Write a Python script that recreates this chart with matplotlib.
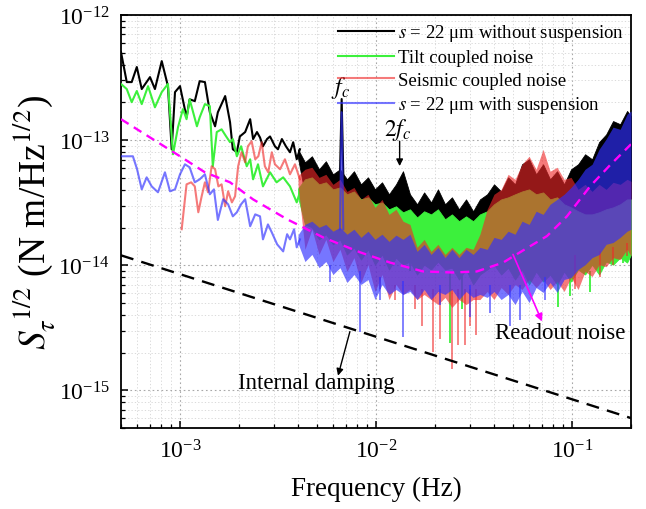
import matplotlib
matplotlib.use("Agg")
import matplotlib.pyplot as plt
from matplotlib.lines import Line2D

plt.rcParams['font.family'] = ['Liberation Serif', 'DejaVu Serif']
plt.rcParams['mathtext.fontset'] = 'stix'

# ---------------- data ----------------
# low-frequency parts of the spectra (individual lines)
black_f = [5.0e-4, 5.35e-4, 5.67e-4, 6.02e-4, 6.38e-4, 7.03e-4, 7.45e-4, 8.07e-4, 8.68e-4, 9.07e-4,
           9.43e-4, 1.0e-3, 1.08e-3, 1.12e-3, 1.19e-3, 1.26e-3, 1.34e-3, 1.42e-3, 1.51e-3, 1.56e-3,
           1.70e-3, 1.80e-3, 1.86e-3, 1.95e-3, 2.02e-3, 2.15e-3, 2.28e-3, 2.36e-3, 2.47e-3, 2.56e-3,
           2.65e-3, 2.78e-3, 2.88e-3, 3.05e-3, 3.16e-3, 3.31e-3, 3.47e-3, 3.64e-3, 3.78e-3, 3.94e-3, 4.09e-3]
black_v = [5.06e-13, 2.91e-13, 2.91e-13, 3.84e-13, 2.56e-13, 3.19e-13, 2.56e-13, 4.28e-13, 2.70e-13, 8.45e-14,
           2.42e-13, 2.70e-13, 1.52e-13, 2.12e-13, 2.05e-13, 2.96e-13, 2.91e-13, 1.67e-13, 1.29e-13, 1.67e-13,
           2.25e-13, 1.39e-13, 8.45e-14, 8.00e-14, 1.07e-13, 1.16e-13, 1.47e-13, 1.02e-13, 1.16e-13, 1.05e-13,
           8.93e-14, 1.02e-13, 1.07e-13, 8.93e-14, 8.45e-14, 1.02e-13, 8.93e-14, 8.00e-14, 9.62e-14, 7.03e-14, 8.45e-14]

green_f = [5.0e-4, 5.35e-4, 5.67e-4, 6.02e-4, 6.38e-4, 6.87e-4, 7.45e-4, 8.07e-4, 8.68e-4, 9.21e-4,
           9.77e-4, 1.035e-3, 1.08e-3, 1.12e-3, 1.22e-3, 1.26e-3, 1.34e-3, 1.42e-3, 1.47e-3, 1.54e-3,
           1.63e-3, 1.72e-3, 1.80e-3, 1.86e-3, 1.95e-3, 2.05e-3, 2.19e-3, 2.28e-3, 2.36e-3, 2.50e-3,
           2.65e-3, 2.88e-3, 3.11e-3, 3.36e-3, 3.64e-3, 3.94e-3, 4.09e-3]
green_v = [2.81e-13, 2.56e-13, 2.01e-13, 2.47e-13, 1.94e-13, 2.70e-13, 1.83e-13, 2.42e-13, 2.81e-13, 7.71e-14,
           1.27e-13, 1.77e-13, 1.47e-13, 2.12e-13, 1.29e-13, 1.52e-13, 1.94e-13, 1.87e-13, 6.18e-14, 1.16e-13,
           1.22e-13, 1.07e-13, 9.62e-14, 1.02e-13, 7.43e-14, 8.93e-14, 6.18e-14, 7.03e-14, 4.86e-14, 6.41e-14,
           4.27e-14, 5.53e-14, 4.60e-14, 5.04e-14, 4.27e-14, 3.18e-14, 3.83e-14]

red_f = [1.02e-3, 1.08e-3, 1.14e-3, 1.19e-3, 1.24e-3, 1.29e-3, 1.34e-3, 1.39e-3, 1.45e-3, 1.51e-3,
         1.57e-3, 1.63e-3, 1.70e-3, 1.76e-3, 1.84e-3, 1.91e-3, 1.98e-3, 2.06e-3, 2.15e-3, 2.22e-3,
         2.32e-3, 2.42e-3, 2.51e-3, 2.61e-3, 2.71e-3, 2.82e-3, 2.94e-3, 3.05e-3, 3.24e-3, 3.43e-3,
         3.64e-3, 3.86e-3, 4.09e-3]
red_v = [1.94e-14, 4.43e-14, 4.60e-14, 4.27e-14, 2.65e-14, 3.56e-14, 4.60e-14, 3.83e-14, 6.18e-14, 5.85e-14,
         4.27e-14, 4.43e-14, 2.96e-14, 3.90e-14, 3.18e-14, 3.56e-14, 6.18e-14, 8.00e-14, 6.65e-14, 8.93e-14,
         9.79e-14, 7.03e-14, 7.43e-14, 9.62e-14, 6.18e-14, 5.53e-14, 8.00e-14, 6.41e-14, 5.85e-14, 7.03e-14,
         5.33e-14, 6.41e-14, 4.86e-14]

blue_f = [5.0e-4, 5.37e-4, 5.75e-4, 6.04e-4, 6.38e-4, 6.76e-4, 7.17e-4, 7.72e-4, 8.38e-4, 8.89e-4,
          9.43e-4, 1.0e-3, 1.06e-3, 1.12e-3, 1.19e-3, 1.26e-3, 1.34e-3, 1.42e-3, 1.49e-3, 1.56e-3,
          1.66e-3, 1.76e-3, 1.86e-3, 1.95e-3, 2.05e-3, 2.15e-3, 2.28e-3, 2.42e-3, 2.56e-3, 2.65e-3,
          2.81e-3, 2.94e-3, 3.13e-3, 3.36e-3, 3.52e-3, 3.64e-3, 3.82e-3, 3.94e-3, 4.09e-3]
blue_v = [7.43e-14, 7.43e-14, 7.43e-14, 5.85e-14, 4.04e-14, 5.04e-14, 4.27e-14, 3.83e-14, 5.53e-14, 3.90e-14,
          4.04e-14, 5.33e-14, 6.41e-14, 6.06e-14, 4.60e-14, 4.86e-14, 5.33e-14, 3.69e-14, 4.04e-14, 2.30e-14,
          3.37e-14, 3.07e-14, 2.46e-14, 2.65e-14, 3.07e-14, 3.37e-14, 2.05e-14, 2.55e-14, 2.46e-14, 1.61e-14,
          2.12e-14, 1.83e-14, 1.47e-14, 1.29e-14, 1.77e-14, 1.61e-14, 1.94e-14, 1.39e-14, 1.61e-14]

# dense high-frequency part: upper / lower envelopes of each spectrum
band_f = [4.00e-3, 4.34e-3, 4.71e-3, 5.12e-3, 5.55e-3, 6.03e-3, 6.55e-3, 7.11e-3, 7.72e-3, 8.38e-3,
          9.10e-3, 9.88e-3, 1.073e-2, 1.165e-2, 1.265e-2, 1.373e-2, 1.49e-2, 1.62e-2, 1.76e-2, 1.91e-2,
          2.07e-2, 2.25e-2, 2.44e-2, 2.65e-2, 2.88e-2, 3.13e-2, 3.39e-2, 3.69e-2, 4.00e-2, 4.35e-2,
          4.72e-2, 5.12e-2, 5.56e-2, 6.04e-2, 6.56e-2, 7.12e-2, 7.73e-2, 8.39e-2, 9.11e-2, 9.89e-2,
          0.1074, 0.1166, 0.1266, 0.1375, 0.1493, 0.162, 0.176, 0.191, 0.200]
black_hi = [8.45e-14, 6.65e-14, 7.43e-14, 5.85e-14, 6.78e-14, 5.33e-14, 5.85e-14, 4.86e-14, 5.64e-14, 4.43e-14,
            5.04e-14, 4.04e-14, 4.60e-14, 3.69e-14, 4.43e-14, 5.64e-14, 3.69e-14, 3.07e-14, 3.82e-14, 3.18e-14,
            4.04e-14, 3.07e-14, 3.49e-14, 2.80e-14, 3.36e-14, 2.70e-14, 3.36e-14, 3.69e-14, 4.43e-14, 3.89e-14,
            5.04e-14, 4.43e-14, 6.41e-14, 7.03e-14, 5.33e-14, 6.41e-14, 4.86e-14, 5.64e-14, 4.43e-14, 5.85e-14,
            6.41e-14, 7.71e-14, 7.03e-14, 9.65e-14, 1.11e-13, 1.42e-13, 1.34e-13, 1.71e-13, 1.55e-13]
black_lo = [7.20e-14, 3.69e-14, 3.82e-14, 3.36e-14, 3.49e-14, 3.07e-14, 3.18e-14, 2.80e-14, 2.96e-14, 2.55e-14,
            2.65e-14, 2.33e-14, 2.41e-14, 2.12e-14, 2.25e-14, 2.01e-14, 2.12e-14, 1.83e-14, 2.04e-14, 1.94e-14,
            2.12e-14, 1.77e-14, 1.94e-14, 1.71e-14, 1.87e-14, 1.71e-14, 1.94e-14, 2.04e-14, 2.33e-14, 2.55e-14,
            2.65e-14, 2.80e-14, 2.96e-14, 3.07e-14, 2.80e-14, 2.90e-14, 2.55e-14, 2.65e-14, 2.33e-14, 2.20e-14,
            2.04e-14, 1.94e-14, 1.94e-14, 2.01e-14, 2.12e-14, 2.20e-14, 2.33e-14, 2.55e-14, 2.55e-14]
green_hi = [4.10e-14, 4.86e-14, 5.04e-14, 4.43e-14, 4.60e-14, 4.04e-14, 4.19e-14, 3.69e-14, 3.89e-14, 3.36e-14,
            3.49e-14, 3.07e-14, 3.18e-14, 2.80e-14, 2.96e-14, 2.65e-14, 2.80e-14, 2.41e-14, 2.70e-14, 2.55e-14,
            2.80e-14, 2.33e-14, 2.55e-14, 2.25e-14, 2.46e-14, 2.25e-14, 2.55e-14, 2.70e-14, 3.07e-14, 3.36e-14,
            3.49e-14, 3.69e-14, 3.89e-14, 4.04e-14, 3.69e-14, 3.82e-14, 3.36e-14, 3.49e-14, 3.07e-14, 2.90e-14,
            2.70e-14, 2.55e-14, 2.55e-14, 2.65e-14, 2.80e-14, 2.90e-14, 3.07e-14, 3.36e-14, 3.36e-14]
green_lo = [3.50e-14, 2.12e-14, 2.01e-14, 1.61e-14, 1.77e-14, 1.47e-14, 1.61e-14, 1.22e-14, 1.39e-14, 1.11e-14,
            1.34e-14, 1.01e-14, 1.22e-14, 9.25e-15, 1.15e-14, 1.01e-14, 1.07e-14, 8.43e-15, 1.01e-14, 9.25e-15,
            1.07e-14, 9.25e-15, 9.56e-15, 7.69e-15, 9.25e-15, 7.02e-15, 8.43e-15, 9.25e-15, 1.01e-14, 8.43e-15,
            9.56e-15, 7.69e-15, 9.25e-15, 7.02e-15, 8.92e-15, 7.41e-15, 8.43e-15, 7.02e-15, 8.92e-15, 7.41e-15,
            9.25e-15, 8.43e-15, 1.01e-14, 8.43e-15, 1.07e-14, 1.01e-14, 1.15e-14, 1.05e-14, 1.22e-14]
red_hi = [5.20e-14, 5.85e-14, 6.07e-14, 5.04e-14, 5.33e-14, 4.43e-14, 4.86e-14, 3.89e-14, 4.19e-14, 3.36e-14,
          3.69e-14, 2.90e-14, 3.36e-14, 2.55e-14, 2.80e-14, 2.25e-14, 2.12e-14, 1.39e-14, 1.61e-14, 1.29e-14,
          1.47e-14, 1.22e-14, 1.39e-14, 1.22e-14, 1.39e-14, 1.34e-14, 1.77e-14, 2.80e-14, 3.69e-14, 4.04e-14,
          5.33e-14, 4.86e-14, 6.41e-14, 7.43e-14, 5.85e-14, 8.45e-14, 5.64e-14, 6.07e-14, 4.86e-14, 5.04e-14,
          4.04e-14, 4.43e-14, 3.89e-14, 4.43e-14, 4.04e-14, 4.60e-14, 4.43e-14, 4.86e-14, 4.68e-14]
red_lo = [4.40e-14, 1.34e-14, 1.94e-14, 1.22e-14, 1.61e-14, 1.07e-14, 1.34e-14, 8.92e-15, 1.15e-14, 7.28e-15,
          1.01e-14, 6.17e-15, 8.43e-15, 5.32e-15, 7.02e-15, 5.84e-15, 6.40e-15, 5.32e-15, 5.84e-15, 5.32e-15,
          4.85e-15, 5.53e-15, 4.60e-15, 5.32e-15, 4.85e-15, 5.32e-15, 5.32e-15, 6.17e-15, 5.32e-15, 6.64e-15,
          5.84e-15, 7.02e-15, 6.40e-15, 7.69e-15, 6.64e-15, 7.69e-15, 6.40e-15, 7.41e-15, 6.17e-15, 7.98e-15,
          6.40e-15, 8.92e-15, 8.12e-15, 1.01e-14, 9.73e-15, 1.15e-14, 1.11e-14, 1.34e-14, 1.18e-14]
blue_hi = [1.75e-14, 2.12e-14, 2.25e-14, 2.01e-14, 2.12e-14, 1.87e-14, 2.01e-14, 1.77e-14, 1.94e-14, 1.67e-14,
           1.87e-14, 1.61e-14, 1.77e-14, 1.55e-14, 1.74e-14, 1.61e-14, 1.77e-14, 1.29e-14, 1.47e-14, 1.22e-14,
           1.39e-14, 1.15e-14, 1.34e-14, 1.15e-14, 1.34e-14, 1.22e-14, 1.39e-14, 1.34e-14, 1.67e-14, 1.61e-14,
           1.87e-14, 1.77e-14, 2.25e-14, 2.12e-14, 2.70e-14, 2.55e-14, 3.07e-14, 3.36e-14, 3.69e-14, 4.19e-14,
           4.86e-14, 5.85e-14, 6.41e-14, 8.45e-14, 1.02e-13, 1.27e-13, 1.22e-13, 1.61e-13, 1.71e-13]
blue_lo = [1.50e-14, 1.07e-14, 1.22e-14, 9.56e-15, 1.07e-14, 8.43e-15, 9.56e-15, 7.28e-15, 8.43e-15, 7.02e-15,
           7.69e-15, 5.32e-15, 7.02e-15, 5.84e-15, 6.40e-15, 5.84e-15, 6.17e-15, 5.32e-15, 6.40e-15, 5.32e-15,
           6.17e-15, 5.84e-15, 6.40e-15, 5.32e-15, 6.17e-15, 5.53e-15, 5.84e-15, 5.53e-15, 6.17e-15, 5.32e-15,
           5.84e-15, 4.85e-15, 6.17e-15, 5.03e-15, 6.64e-15, 6.06e-15, 7.28e-15, 6.06e-15, 7.69e-15, 7.98e-15,
           9.25e-15, 1.01e-14, 1.15e-14, 1.22e-14, 1.47e-14, 1.52e-14, 1.67e-14, 1.87e-14, 1.94e-14]

# isolated deep dips below the dense bands (frequency, dip value, band edge)
red_spk_f = [1.047e-2, 1.25e-2, 1.58e-2, 1.72e-2, 1.95e-2, 2.12e-2, 2.44e-2, 2.62e-2, 2.84e-2, 3.02e-2,
             3.24e-2, 0.1035, 0.139, 0.162, 0.191]
red_spk_v = [6.40e-15, 5.32e-15, 4.43e-15, 3.24e-15, 2.01e-15, 2.55e-15, 1.47e-15, 2.32e-15, 2.32e-15, 3.24e-15,
             2.79e-15, 6.40e-15, 8.12e-15, 1.01e-14, 1.18e-14]
red_spk_top = [8.0e-15, 7.0e-15, 7.0e-15, 6.5e-15, 6.5e-15, 6.5e-15, 6.5e-15, 6.5e-15, 6.5e-15, 6.5e-15,
               6.5e-15, 1.2e-14, 1.3e-14, 1.4e-14, 1.5e-14]
blue_spk_f = [5.82e-3, 8.28e-3, 1.047e-2, 1.373e-2, 2.12e-2, 3.02e-2, 3.82e-2, 4.83e-2, 5.43e-2, 7.28e-2]
blue_spk_v = [7.28e-15, 2.95e-15, 5.32e-15, 2.69e-15, 4.85e-15, 3.89e-15, 4.19e-15, 3.24e-15, 3.68e-15, 5.32e-15]
blue_spk_top = [1.0e-14, 9.0e-15, 8.0e-15, 7.5e-15, 7.0e-15, 7.0e-15, 7.0e-15, 7.0e-15, 7.0e-15, 8.0e-15]
green_spk_f = [1.49e-2, 2.39e-2, 2.75e-2, 8.49e-2, 9.77e-2, 0.1236, 0.182]
green_spk_v = [8.92e-15, 2.41e-15, 4.43e-15, 4.67e-15, 5.63e-15, 6.06e-15, 1.05e-14]
green_spk_top = [1.2e-14, 9.0e-15, 9.0e-15, 8.0e-15, 8.0e-15, 9.0e-15, 1.3e-14]

# narrow peak at the resonance f_c
fc_f = [6.55e-3, 6.68e-3, 6.81e-3]
fc_black = [5.33e-14, 2.13e-13, 5.33e-14]
fc_blue = [1.94e-14, 1.67e-13, 1.94e-14]

# model curves
readout_f = [5.0e-4, 1.0e-3, 1.34e-3, 1.80e-3, 2.36e-3, 3.52e-3, 5.37e-3, 8.28e-3, 1.18e-2, 1.74e-2,
             2.47e-2, 3.27e-2, 4.45e-2, 5.43e-2, 7.45e-2, 9.42e-2, 0.1236, 0.156, 0.2]
readout_v = [1.47e-13, 7.43e-14, 5.53e-14, 4.60e-14, 3.36e-14, 2.33e-14, 1.67e-14, 1.27e-14, 1.05e-14, 8.92e-15,
             8.75e-15, 8.92e-15, 1.05e-14, 1.27e-14, 1.71e-14, 2.46e-14, 4.27e-14, 6.29e-14, 9.27e-14]
damping_f = [5.0e-4, 0.2]
damping_v = [1.2e-14, 6.0e-16]

labels = [r"$s$ = 22 μm without suspension", "Tilt coupled noise",
          "Seismic coupled noise", r"$s$ = 22 μm with suspension"]
x_ticks = [1e-3, 1e-2, 1e-1]
y_ticks = [1e-15, 1e-14, 1e-13, 1e-12]

# ---------------- styling ----------------
C_BLACK = '#000000'
C_GREEN = '#3cf03c'
C_RED = '#f02828'
C_BLUE = '#3030ff'
A_RED = 0.62
A_BLUE = 0.66

fig = plt.figure(figsize=(6.46, 5.10), dpi=100)
ax = fig.add_axes([0.1873, 0.1588, 0.7895, 0.8098])

ax.set_xscale('log')
ax.set_yscale('log')

# black
ax.plot(black_f, black_v, color=C_BLACK, lw=1.5, zorder=2)
ax.fill_between(band_f, black_lo, black_hi, color=C_BLACK, lw=0.6, zorder=2)
ax.plot(fc_f, fc_black, color=C_BLACK, lw=1.5, zorder=2)
# green
ax.plot(green_f, green_v, color=C_GREEN, lw=1.5, zorder=3)
ax.fill_between(band_f, green_lo, green_hi, color=C_GREEN, lw=0.6, zorder=3)
ax.vlines(green_spk_f, green_spk_v, green_spk_top, color=C_GREEN, lw=1.3, zorder=3)
# red
ax.plot(red_f, red_v, color=C_RED, alpha=A_RED, lw=1.5, zorder=4)
ax.fill_between(band_f, red_lo, red_hi, color=C_RED, alpha=A_RED, lw=0, zorder=4)
ax.vlines(red_spk_f, red_spk_v, red_spk_top, color=C_RED, alpha=A_RED, lw=1.3, zorder=4)
# blue
ax.plot(blue_f, blue_v, color=C_BLUE, alpha=A_BLUE, lw=1.5, zorder=5)
ax.fill_between(band_f, blue_lo, blue_hi, color=C_BLUE, alpha=A_BLUE, lw=0, zorder=5)
ax.vlines(blue_spk_f, blue_spk_v, blue_spk_top, color=C_BLUE, alpha=A_BLUE, lw=1.3, zorder=5)
ax.plot(fc_f, fc_blue, color=C_BLUE, alpha=A_BLUE, lw=1.5, zorder=5)

# model lines
ax.plot(readout_f, readout_v, color='#ff00ff', lw=1.7, dashes=(3.8, 2.6), zorder=7)
ax.plot(damping_f, damping_v, color='black', lw=1.7, dashes=(5.5, 3.5), zorder=7)

ax.set_xlim(5e-4, 0.2)
ax.set_ylim(5e-16, 1e-12)
ax.set_xticks(x_ticks)
ax.set_yticks(y_ticks)

# grid
ax.grid(which='major', ls=(0, (1.5, 2.5)), color='#a8a8a8', lw=0.8)
ax.grid(which='minor', ls=(0, (1.5, 2.5)), color='#d4d4d4', lw=0.6)
ax.set_axisbelow(True)

ax.tick_params(which='both', direction='in', top=False, right=False, labelsize=17)
ax.tick_params(which='major', length=5, width=1.1, pad=8)
ax.tick_params(which='minor', length=3, width=0.9)
for sp in ax.spines.values():
    sp.set_linewidth(1.3)

ax.set_xlabel('Frequency (Hz)', fontsize=19.5, labelpad=10)
ax.set_ylabel(r'$S_\tau^{\ 1/2}$ (N m/Hz$^{1/2}$)', fontsize=27, labelpad=0)

# legend
handles = [Line2D([], [], color=C_BLACK, lw=1.5),
           Line2D([], [], color=C_GREEN, lw=1.5),
           Line2D([], [], color=C_RED, alpha=A_RED, lw=1.5),
           Line2D([], [], color=C_BLUE, alpha=A_BLUE, lw=1.5)]
ax.legend(handles, labels, loc='upper right', frameon=False, fontsize=13.5,
          handlelength=3.0, handletextpad=0.2, labelspacing=0.3,
          borderaxespad=0.1, bbox_to_anchor=(1.005, 1.005))

# annotations
ax.text(6.6e-3, 2.65e-13, r'$f_c$', fontsize=17, ha='center', va='center')
ax.text(1.29e-2, 1.22e-13, r'$2f_c$', fontsize=17, ha='center', va='center')
ax.annotate('', xy=(1.32e-2, 6.2e-14), xytext=(1.32e-2, 9.8e-14),
            arrowprops=dict(arrowstyle='-|>', color='black', lw=1.0,
                            mutation_scale=10, shrinkA=0, shrinkB=0))
ax.text(0.229, 0.111, 'Internal damping', transform=ax.transAxes, fontsize=16.5,
        ha='left', va='center')
ax.annotate('', xy=(6.40e-3, 1.31e-15), xytext=(7.36e-3, 2.95e-15),
            arrowprops=dict(arrowstyle='-|>', color='black', lw=1.0,
                            mutation_scale=10, shrinkA=0, shrinkB=0), zorder=8)
ax.text(0.733, 0.232, 'Readout noise', transform=ax.transAxes, fontsize=16.5,
        ha='left', va='center', zorder=8)
ax.annotate('', xy=(7.03e-2, 3.55e-15), xytext=(5.0e-2, 1.22e-14),
            arrowprops=dict(arrowstyle='-|>', color='#ff00ff', lw=1.2,
                            mutation_scale=11, shrinkA=0, shrinkB=0), zorder=8)

fig.savefig('out.png', dpi=100)
